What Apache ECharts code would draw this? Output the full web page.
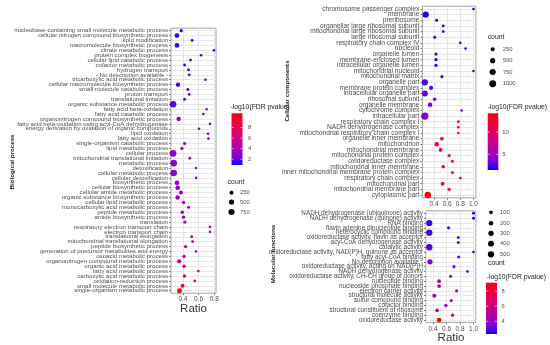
<!DOCTYPE html>
<html><head><meta charset="utf-8">
<script src="https://cdn.jsdelivr.net/npm/echarts@6/dist/echarts.min.js"></script>
<style>html,body{margin:0;padding:0;background:#fff}#c{width:550px;height:345px}</style>
</head><body><div id="c"></div>
<script>
// ---------------- DATA ----------------
const bpCategories = [
 "nucleobase-containing small molecule metabolic process","cellular nitrogen compound biosynthetic process","lipid modification",
 "macromolecule biosynthetic process","citrate metabolic process","protein complex biogenesis","cellular lipid catabolic process",
 "cofactor metabolic process","hydrogen transport","- No description available -","tricarboxylic acid metabolic process",
 "cellular macromolecule biosynthetic process","small molecule catabolic process","proton transport","translational initiation",
 "organic substance metabolic process","fatty acid beta-oxidation","fatty acid catabolic process","organonitrogen compound biosynthetic process",
 "fatty acid beta-oxidation using acyl-CoA dehydrogenase","energy derivation by oxidation of organic compounds","lipid oxidation",
 "fatty acid oxidation","single-organism catabolic process","lipid metabolic process","cellular process","mitochondrial translational initiation",
 "metabolic process","detoxification","cellular metabolic process","cellular detoxification","biosynthetic process","cellular biosynthetic process",
 "cellular amide metabolic process","organic substance biosynthetic process","cellular lipid metabolic process","monocarboxylic acid metabolic process",
 "peptide metabolic process","amide biosynthetic process","translation","respiratory electron transport chain","electron transport chain",
 "translational elongation","mitochondrial translational elongation","peptide biosynthetic process","generation of precursor metabolites and energy",
 "oxoacid metabolic process","organonitrogen compound metabolic process","organic acid metabolic process","fatty acid metabolic process",
 "carboxylic acid metabolic process","oxidation-reduction process","small molecule metabolic process","single-organism metabolic process"];
const bpRatio = [0.379,0.324,0.518,0.324,0.796,0.632,0.497,0.421,0.472,0.48,0.686,0.337,0.463,0.48,0.421,0.274,0.703,0.661,0.345,0.745,
 0.606,0.72,0.724,0.421,0.387,0.274,0.488,0.282,0.568,0.282,0.568,0.324,0.333,0.375,0.333,0.408,0.472,0.392,0.408,0.425,
 0.745,0.745,0.512,0.523,0.434,0.567,0.415,0.352,0.415,0.597,0.419,0.551,0.396,0.356];
const bpCount = [120,380,70,370,60,60,70,90,80,80,60,320,90,80,100,900,60,60,300,60,60,60,60,110,130,950,80,900,60,880,60,380,360,250,330,
 150,100,160,150,140,60,60,90,85,130,70,150,300,150,70,150,80,250,420];
const bpLogFdr = [1.3,1.4,1.3,1.5,1.2,1.3,1.4,1.5,1.6,1.6,1.6,1.8,1.8,1.9,2.0,1.9,2.6,2.6,2.5,2.7,2.7,2.8,2.8,2.9,3.0,2.8,3.0,2.9,3.1,3.0,
 3.1,3.3,3.3,3.4,3.5,3.6,3.7,3.8,3.9,4.0,4.2,4.3,4.5,4.6,4.8,5.0,5.4,5.6,5.8,6.0,6.2,6.6,8.5,10.7];

const ccCategories = ["chromosome passenger complex","membrane","preribosome","organellar large ribosomal subunit",
 "mitochondrial large ribosomal subunit","large ribosomal subunit","respiratory chain complex IV","nucleoid","organelle lumen",
 "membrane-enclosed lumen","intracellular organelle lumen","mitochondrial nucleoid","mitochondrial matrix","organelle part",
 "membrane protein complex","intracellular organelle part","ribosomal subunit","organelle membrane","cytochrome complex","intracellular part",
 "respiratory chain complex I","NADH dehydrogenase complex","mitochondrial respiratory chain complex I","organelle inner membrane",
 "mitochondrion","mitochondrial membrane","mitochondrial protein complex","oxidoreductase complex","mitochondrial inner membrane",
 "inner mitochondrial membrane protein complex","respiratory chain complex","mitochondrial part","mitochondrial membrane part","cytoplasmic part"];
const ccRatio = [1.0,0.274,0.44,0.54,0.54,0.41,0.80,0.88,0.43,0.43,0.43,1.0,0.52,0.26,0.355,0.26,0.41,0.34,0.82,0.26,
 0.77,0.77,0.77,0.52,0.44,0.50,0.63,0.68,0.54,0.68,0.80,0.53,0.63,0.305];
const ccCount = [60,750,100,80,80,110,60,60,130,130,130,60,110,780,280,720,150,330,60,1150,70,70,70,190,330,200,120,110,180,100,80,230,140,850];
const ccLogFdr = [1.6,1.8,1.7,1.8,1.8,1.9,2.0,2.0,2.1,2.1,2.1,2.2,2.3,2.5,2.7,2.9,3.2,3.4,3.5,3.8,
 11.3,11.3,11.3,11.5,11.0,11.5,11.8,12.0,12.0,12.2,12.3,12.5,13.0,14.2];

const mfCategories = ["NADH dehydrogenase (ubiquinone) activity","NADH dehydrogenase (quinone) activity","RNA binding",
 "flavin adenine dinucleotide binding","heterocyclic compound binding","oxidoreductase activity, flavin as acceptor",
 "acyl-CoA dehydrogenase activity","catalytic activity","oxidoreductase activity, NAD(P)H, quinone as acceptor","fatty acyl-CoA binding",
 "- No description available -","oxidoreductase activity, acting on NAD(P)H","NADH dehydrogenase activity",
 "oxidoreductase activity, CH-CH group of donors","nucleotide binding","nucleoside phosphate binding","electron carrier activity",
 "structural molecule activity","sulfur compound binding","cofactor binding","structural constituent of ribosome","coenzyme binding",
 "oxidoreductase activity"];
const mfRatio = [1.0,1.0,0.345,0.63,0.345,0.775,0.775,0.345,1.0,0.78,0.355,0.71,0.91,0.66,0.49,0.49,0.75,0.42,0.67,0.59,0.46,0.69,0.49];
const mfCount = [40,40,480,50,500,45,45,520,40,45,300,50,40,50,110,110,50,140,60,75,100,60,210];
const mfLogFdr = [2.5,2.6,2.7,2.8,2.8,2.9,2.9,2.9,3.0,3.0,3.55,3.6,3.7,3.8,4.4,4.4,4.6,4.7,4.8,5.0,5.2,5.6,9.1];

const ratioTicksBP = [0.4,0.6,0.8];
const ratioMinorBP = [0.3,0.5,0.7];
const ratioTicksWide = [0.4,0.6,0.8,1.0];
const ratioMinorWide = [0.3,0.5,0.7,0.9];
const bpColorTicks = [2,4,6,8];
const ccColorTicks = [5,10];
const mfColorTicks = [4,6,8];
const bpColorRange = [0.92,10.7];
const ccColorRange = [1.47,14.2];
const mfColorRange = [2.33,9.1];
const bpSizeBreaks = [250,500,750];
const ccSizeBreaks = [250,500,750,1000];
const mfSizeBreaks = [100,200,300,400,500];

// ---------------- STYLE / LAYOUT ----------------
const FONT = "'Liberation Sans', Arial, Helvetica, sans-serif";
const GRAD = ['#0000FF','#7300E0','#9A00C2','#B500A5','#C90088','#DA006A','#E8004F','#F40031','#FF0000'];
const panels = [
 {cats:bpCategories, ratio:bpRatio, count:bpCount, fdr:bpLogFdr, cr:bpColorRange, major:ratioTicksBP, minor:ratioMinorBP,
  left:171, top:28.2, width:45, height:265, xMin:0.248, xMax:0.822, labelSize:6.1, sA:1.2, sB:0.18},
 {cats:ccCategories, ratio:ccRatio, count:ccCount, fdr:ccLogFdr, cr:ccColorRange, major:ratioTicksWide, minor:ratioMinorWide,
  left:422.4, top:6.2, width:53.5, height:191.6, xMin:0.223, xMax:1.037, labelSize:6.6, sA:1.2, sB:0.18},
 {cats:mfCategories, ratio:mfRatio, count:mfCount, fdr:mfLogFdr, cr:mfColorRange, major:ratioTicksWide, minor:ratioMinorWide,
  left:426, top:210.9, width:49.8, height:111.5, xMin:0.2965, xMax:1.0335, labelSize:6.35, sA:1.6, sB:0.21}
];

const grid=[], xAxis=[], yAxis=[], series=[], visualMap=[];
panels.forEach((p,i)=>{
  grid.push({left:p.left, top:p.top, width:p.width, height:p.height, show:true, backgroundColor:'#fff', borderColor:'#a0a0a0', borderWidth:1});
  const xb = xAxis.length, yb = yAxis.length;
  const xc = {type:'value', gridIndex:i, min:p.xMin, max:p.xMax, position:'bottom', axisLine:{show:false}, splitLine:{show:false}};
  xAxis.push(Object.assign({}, xc, {axisLabel:{show:false}, axisTick:{show:true, inside:true, length:p.height, customValues:p.minor, lineStyle:{color:'#f3f3f3', width:0.6}}}));
  xAxis.push(Object.assign({}, xc, {axisLabel:{show:false}, axisTick:{show:true, inside:true, length:p.height, customValues:p.major, lineStyle:{color:'#e6e6e6', width:1}}}));
  xAxis.push(Object.assign({}, xc, {axisLabel:{show:true, customValues:p.major, formatter:v=>v.toFixed(1), fontSize:6.5, color:'#4d4d4d', margin:3, fontFamily:FONT},
    axisTick:{show:true, length:2, customValues:p.major, lineStyle:{color:'#333', width:0.6}}}));
  const yc = {type:'category', gridIndex:i, data:p.cats, inverse:true, position:'left', axisLine:{show:false}, splitLine:{show:false}};
  yAxis.push(Object.assign({}, yc, {axisLabel:{show:false}, axisTick:{show:true, inside:true, length:p.width, alignWithLabel:true, interval:0, lineStyle:{color:'#e6e6e6', width:1}}}));
  yAxis.push(Object.assign({}, yc, {axisLabel:{show:true, interval:0, fontSize:p.labelSize, color:'#4d4d4d', margin:3, fontFamily:FONT},
    axisTick:{show:true, length:2, alignWithLabel:true, interval:0, lineStyle:{color:'#333', width:0.6}}}));
  series.push({type:'scatter', xAxisIndex:xb+2, yAxisIndex:yb+1, animation:false, emphasis:{disabled:true}, z:5,
    data:p.cats.map((c,k)=>[p.ratio[k], c, p.count[k], p.fdr[k]]),
    symbolSize:v=>p.sA + p.sB*Math.sqrt(v[2]), itemStyle:{opacity:1}});
  visualMap.push({type:'continuous', show:false, seriesIndex:i, dimension:3, min:p.cr[0], max:p.cr[1], inRange:{color:GRAD}});
});

const graphic = [];
function txt(x,y,text,size,opts){
  opts = opts||{};
  graphic.push({type:'text', x:x, y:y, rotation:opts.rot||0, silent:true,
    style:{text:text, fontSize:size, fontFamily:FONT, fontWeight:opts.bold?'bold':'normal', fill:opts.fill||'#1a1a1a',
      align:opts.align||'left', verticalAlign:'middle'}});
}
// panel side titles
txt(12,162,'Biological process',6.2,{rot:Math.PI/2,bold:true,align:'center'});
txt(287,91,'Cellular components',6.2,{rot:Math.PI/2,bold:true,align:'center'});
txt(273,254,'Molecular functions',6.2,{rot:Math.PI/2,bold:true,align:'center'});
// ratio titles
txt(193.5,308.5,'Ratio',11.5,{align:'center',fill:'#333'});
txt(451,337.5,'Ratio',11.5,{align:'center',fill:'#333'});

function colorbar(title, tx, ty, bx, bw, y0, y1, range, ticks, lx){
  txt(tx,ty,title,6.8);
  const stops = GRAD.map((c,k)=>({offset:1-k/(GRAD.length-1), color:c}));
  graphic.push({type:'rect', silent:true, shape:{x:bx, y:y0, width:bw, height:y1-y0},
    style:{fill:{type:'linear', x:0,y:0,x2:0,y2:1, colorStops:stops.slice().reverse()}}});
  ticks.forEach(v=>{
    const y = y0 + (range[1]-v)/(range[1]-range[0])*(y1-y0);
    graphic.push({type:'line', silent:true, shape:{x1:bx, y1:y, x2:bx+2.2, y2:y}, style:{stroke:'#fff', lineWidth:0.6}});
    graphic.push({type:'line', silent:true, shape:{x1:bx+bw-2.2, y1:y, x2:bx+bw, y2:y}, style:{stroke:'#fff', lineWidth:0.6}});
    txt(lx,y,String(v),5.8,{fill:'#4d4d4d'});
  });
}
function sizeLegend(breaks, cx, ys, lx, sA, sB){
  breaks.forEach((b,k)=>{
    const d = sA + sB*Math.sqrt(b);
    graphic.push({type:'circle', silent:true, shape:{cx:cx, cy:ys[k], r:d/2}, style:{fill:'#000'}});
    txt(lx,ys[k],String(b),5.8,{fill:'#4d4d4d'});
  });
}
// BP legends
colorbar('-log10(FDR pvalue)', 230.5, 106.7, 231.5, 11, 113.3, 165, bpColorRange, bpColorTicks, 248);
txt(227.7,181.7,'count',6.8);
sizeLegend(bpSizeBreaks, 231.5, [192.7,202,212], 240, 1.2, 0.18);
// CC legends
txt(487.7,37.3,'count',6.8);
sizeLegend(ccSizeBreaks, 492.7, [49.3,60.7,72,83.7], 502.7, 1.2, 0.18);
colorbar('-log10(FDR pvalue)', 487.7, 107.3, 487.7, 10.6, 113.3, 170, ccColorRange, ccColorTicks, 502.3);
// MF legends
sizeLegend(mfSizeBreaks, 491, [212.3,223.3,233.3,243.7,254.3], 500, 1.6, 0.21);
txt(488,263.3,'count',6.8);
colorbar('-log10(FDR pvalue)', 486.7, 276.7, 486, 11, 282.7, 334, mfColorRange, mfColorTicks, 501.5);

const chart = echarts.init(document.getElementById('c'), null, {renderer:'canvas'});
chart.setOption({animation:false, backgroundColor:'#fff', grid, xAxis, yAxis, series, visualMap, graphic});
</script></body></html>
